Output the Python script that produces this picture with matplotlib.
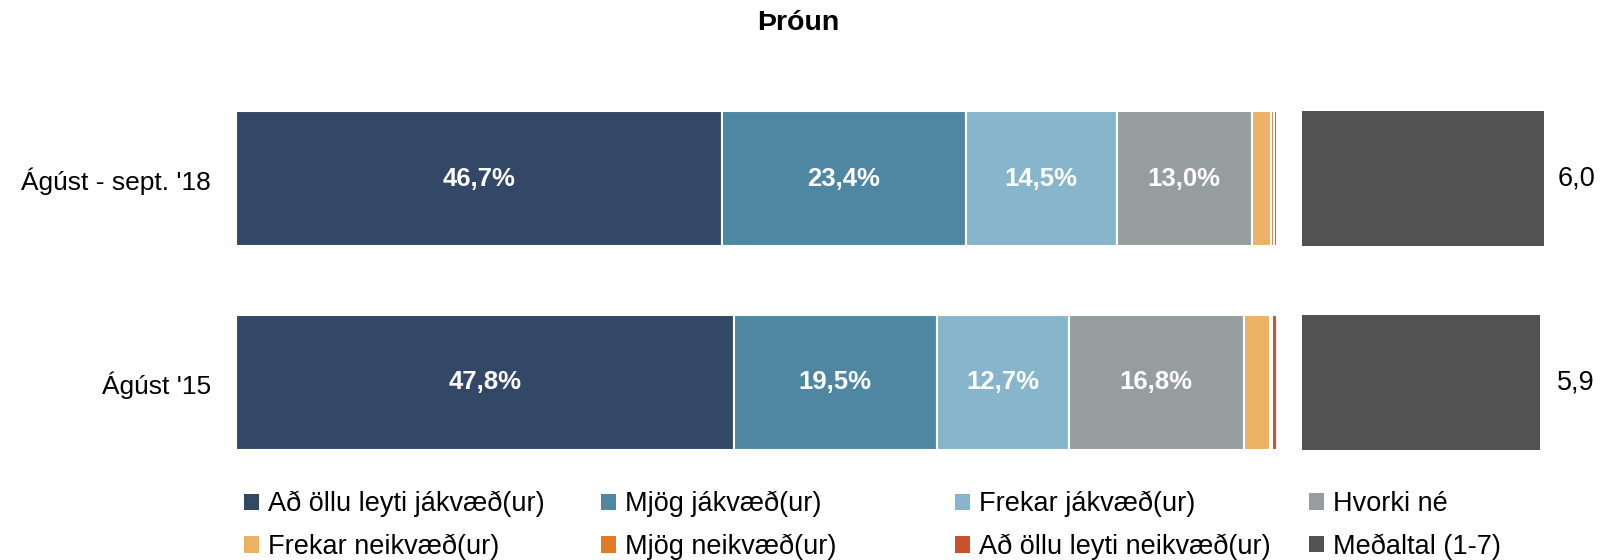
import matplotlib
matplotlib.use("Agg")
import matplotlib.pyplot as plt
from matplotlib.patches import Patch
from matplotlib.transforms import blended_transform_factory

plt.rcParams['font.family'] = ['Liberation Sans', 'DejaVu Sans']

# data
periods = ["Ágúst - sept. '18", "Ágúst '15"]
categories = ["Að öllu leyti jákvæð(ur)", "Mjög jákvæð(ur)", "Frekar jákvæð(ur)", "Hvorki né",
              "Frekar neikvæð(ur)", "Mjög neikvæð(ur)", "Að öllu leyti neikvæð(ur)"]
values_18 = [46.7, 23.4, 14.5, 13.0, 1.8, 0.3, 0.3]
values_15 = [47.8, 19.5, 12.7, 16.8, 2.5, 0.2, 0.5]
means = [6.0, 5.9]
mean_label = "Meðaltal (1-7)"

colors = ["#334766", "#4f87a3", "#86b5cc", "#969d9e", "#ecb264", "#e07b2a", "#c9522a"]
mean_color = "#525252"

W, H = 1616, 560
fig = plt.figure(figsize=(W / 100, H / 100), dpi=100)

# stacked percent bars
ax1 = fig.add_axes([236 / W, (H - 474) / H, 1041 / W, 387 / H])
ax2 = fig.add_axes([1302 / W, (H - 474) / H, 282 / W, 387 / H])
ypos = [0, 1]
rows = [values_18, values_15]
for i, vals in enumerate(rows):
    left = 0
    for j, v in enumerate(vals):
        ax1.barh(ypos[i], v, left=left, height=0.66, color=colors[j],
                 edgecolor="white", linewidth=1.5)
        if v >= 5:
            ax1.text(left + v / 2, ypos[i], f"{v:.1f}%".replace(".", ","),
                     ha="center", va="center", color="white",
                     fontsize=18.5, fontweight="bold")
        left += v

ax1.set_xlim(0, 100)
ax1.set_ylim(1.45, -0.45)
ax1.set_yticks(ypos)
ax1.set_yticklabels(periods, fontsize=19)
ax1.tick_params(axis="y", length=0, pad=18)
ax1.set_xticks([])
for s in ax1.spines.values():
    s.set_visible(False)

# mean bars
ax2.barh(ypos, means, height=0.66, color=mean_color)
ax2.set_xlim(0, 7)
ax2.set_ylim(1.45, -0.45)
tr = blended_transform_factory(ax2.transAxes, ax2.transData)
for i, m in enumerate(means):
    ax2.text(0.905, ypos[i], f"{m:.1f}".replace(".", ","), transform=tr,
             ha="left", va="center", fontsize=19.5)
ax2.axis("off")

fig.text(0.494, 1 - 23 / H, "Þróun", ha="center", va="center",
         fontsize=20.5, fontweight="bold")

# legend, four columns
labels = categories + [mean_label]
all_colors = colors + [mean_color]
col_x = [244, 601, 955, 1309]
for c in range(4):
    idx = [c, c + 4]
    handles = [Patch(facecolor=all_colors[k], edgecolor="none") for k in idx]
    fig.legend(handles, [labels[k] for k in idx], loc="upper left",
               bbox_to_anchor=(col_x[c] / W, 1 - 491 / H), frameon=False,
               fontsize=19.5, handlelength=0.55, handleheight=0.55,
               handletextpad=0.35, borderpad=0, borderaxespad=0,
               labelspacing=0.6)

fig.savefig("out.png", dpi=100)
